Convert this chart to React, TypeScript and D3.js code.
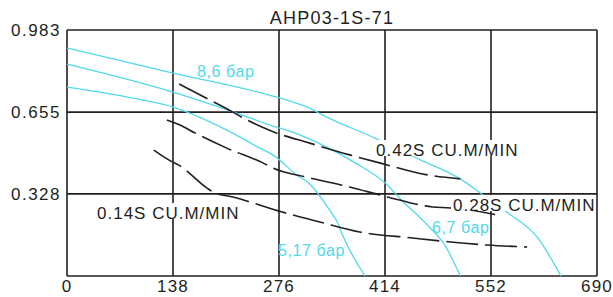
import React, { useRef, useEffect } from "react";
import * as d3 from "d3";

const title = "AHP03-1S-71";
const xTicks = [0, 138, 276, 414, 552, 690];
const yTicks = [0, 0.328, 0.655, 0.983];
const yTickLabels = ["", "0.328", "0.655", "0.983"];

// cyan pressure curves
const pressureNames = ["8,6 бар", "6,7 бар", "5,17 бар"];
const bar86X = [0, 138, 268, 294, 316, 333, 401, 460, 512, 538, 574, 612, 643];
const bar86Y = [0.911, 0.811, 0.719, 0.695, 0.671, 0.643, 0.551, 0.464, 0.388, 0.332, 0.252, 0.156, 0];
const bar67X = [0, 138, 221, 268, 294, 316, 333, 375, 417, 434, 456, 473, 490, 512];
const bar67Y = [0.847, 0.735, 0.651, 0.599, 0.575, 0.547, 0.523, 0.452, 0.364, 0.308, 0.244, 0.192, 0.132, 0];
const bar517X = [0, 99, 138, 208, 251, 268, 299, 316, 346, 352, 357, 388];
const bar517Y = [0.755, 0.703, 0.675, 0.583, 0.511, 0.484, 0.404, 0.368, 0.244, 0.216, 0.176, 0];

// black dashed flow curves
const flowNames = ["0.42S CU.M/MIN", "0.28S CU.M/MIN", "0.14S CU.M/MIN"];
const flow042X = [146, 176, 216, 225, 266, 316, 368, 407, 469, 512];
const flow042Y = [0.767, 0.719, 0.655, 0.639, 0.579, 0.531, 0.484, 0.452, 0.404, 0.388];
const flow028X = [130, 147, 167, 208, 255, 268, 316, 368, 417, 476, 499, 547, 566];
const flow028Y = [0.623, 0.603, 0.571, 0.511, 0.452, 0.432, 0.392, 0.356, 0.316, 0.276, 0.272, 0.252, 0.24];
const flow014X = [113, 137, 145, 182, 190, 221, 238, 280, 329, 381, 450, 499, 547, 599];
const flow014Y = [0.503, 0.456, 0.444, 0.352, 0.336, 0.312, 0.296, 0.256, 0.216, 0.176, 0.152, 0.136, 0.124, 0.116];

const zip = (xs: number[], ys: number[]) => xs.map((x, i) => [x, ys[i]] as [number, number]);

const drawChart = (svgRef: React.RefObject<SVGSVGElement | null>) => {
	const width = 613,
		height = 297,
		cyan = "#52d9ea",
		ink = "#231f20",
		font = "'Liberation Sans', Arial, sans-serif";

	const svg = d3.select(svgRef.current);
	svg.selectAll("*").remove();
	svg.attr("width", width).attr("height", height);

	const x = d3.scaleLinear().domain([0, 690]).range([67, 597]);
	const y = d3.scaleLinear().domain([0, 0.983]).range([276, 30]);

	const line = d3
		.line<[number, number]>()
		.x((d) => x(d[0]))
		.y((d) => y(d[1]))
		.curve(d3.curveMonotoneX);

	// grid
	const grid = svg.append("g").attr("stroke", ink).attr("stroke-width", 1.6);
	grid
		.selectAll("line.v")
		.data(xTicks)
		.enter()
		.append("line")
		.attr("x1", (d) => x(d))
		.attr("x2", (d) => x(d))
		.attr("y1", y(0))
		.attr("y2", y(0.983));
	grid
		.selectAll("line.h")
		.data(yTicks)
		.enter()
		.append("line")
		.attr("x1", x(0))
		.attr("x2", x(690))
		.attr("y1", (d) => y(d))
		.attr("y2", (d) => y(d));

	// tick labels
	svg
		.append("g")
		.selectAll("text")
		.data(xTicks)
		.enter()
		.append("text")
		.attr("x", (d) => x(d))
		.attr("y", 292)
		.attr("text-anchor", "middle")
		.attr("font-family", font)
		.attr("font-size", 17)
		.attr("letter-spacing", 1.2)
		.attr("fill", ink)
		.text((d) => d);

	svg
		.append("g")
		.selectAll("text")
		.data(yTicks)
		.enter()
		.append("text")
		.attr("x", 61)
		.attr("y", (d) => y(d) + 6)
		.attr("text-anchor", "end")
		.attr("font-family", font)
		.attr("font-size", 17)
		.attr("letter-spacing", 1.5)
		.attr("fill", ink)
		.text((d, i) => yTickLabels[i]);

	svg
		.append("text")
		.attr("x", (x(0) + x(690)) / 2)
		.attr("y", 24)
		.attr("text-anchor", "middle")
		.attr("font-family", font)
		.attr("font-size", 18)
		.attr("letter-spacing", 1.2)
		.attr("fill", ink)
		.text(title);

	// curves
	const pressure = [zip(bar86X, bar86Y), zip(bar67X, bar67Y), zip(bar517X, bar517Y)];
	svg
		.append("g")
		.selectAll("path")
		.data(pressure)
		.enter()
		.append("path")
		.attr("d", (d) => line(d))
		.attr("fill", "none")
		.attr("stroke", cyan)
		.attr("stroke-width", 1.3);

	const flows = [zip(flow042X, flow042Y), zip(flow028X, flow028Y), zip(flow014X, flow014Y)];
	svg
		.append("g")
		.selectAll("path")
		.data(flows)
		.enter()
		.append("path")
		.attr("d", (d) => line(d))
		.attr("fill", "none")
		.attr("stroke", ink)
		.attr("stroke-width", 1.6)
		.attr("stroke-dasharray", "32,7");

	// flow labels with white boxes over the lines
	const flowLabelPos = [
		[376, 156],
		[453, 211],
		[97, 219],
	];
	const flowLabels = svg
		.append("g")
		.selectAll("g")
		.data(flowNames)
		.enter()
		.append("g")
		.attr("transform", (d, i) => `translate(${flowLabelPos[i][0]},${flowLabelPos[i][1]})`);
	flowLabels
		.append("rect")
		.attr("x", -2)
		.attr("y", -16)
		.attr("width", 145)
		.attr("height", 16)
		.attr("fill", "white");
	flowLabels
		.append("text")
		.attr("font-family", font)
		.attr("font-size", 17)
		.attr("letter-spacing", 1)
		.attr("fill", ink)
		.text((d) => d);

	const pressureLabelPos = [
		[197, 77],
		[432, 233],
		[278, 256],
	];
	svg
		.append("g")
		.selectAll("text")
		.data(pressureNames)
		.enter()
		.append("text")
		.attr("x", (d, i) => pressureLabelPos[i][0])
		.attr("y", (d, i) => pressureLabelPos[i][1])
		.attr("font-family", font)
		.attr("font-size", 16)
		.attr("letter-spacing", 0.6)
		.attr("fill", cyan)
		.text((d) => d);
};

const App = () => {
	const svg = useRef<SVGSVGElement | null>(null);

	useEffect(() => {
		drawChart(svg);
	}, []);

	return (
		<div style={{ position: "absolute", left: 0, top: 0, background: "white" }}>
			<svg ref={svg} style={{ display: "block" }} />
		</div>
	);
};

export default App;
